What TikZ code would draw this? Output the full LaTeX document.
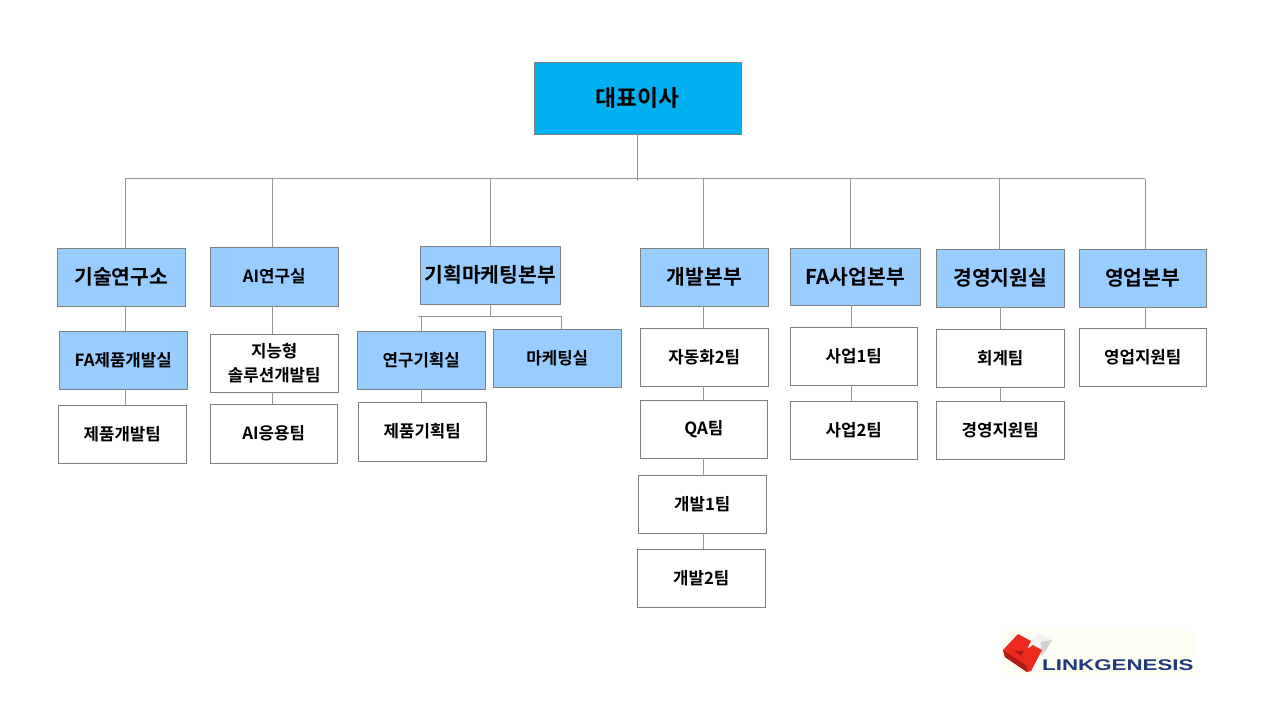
\documentclass[tikz,border=0pt]{standalone}
\usepackage{fontspec}
\setmainfont{Noto Sans CJK KR}[BoldFont=* Bold]
\newfontfamily\logofont{Liberation Sans}[FakeStretch=1.44]
\definecolor{topblue}{HTML}{00B0F0}
\definecolor{deptblue}{HTML}{99CCFF}
\definecolor{boxline}{HTML}{7F7F7F}
\definecolor{linkline}{HTML}{969696}
\definecolor{logonavy}{HTML}{1F3A7A}
\definecolor{logored}{HTML}{EC2A1E}
\definecolor{logodark}{HTML}{B01A14}
\tikzset{
	orgbox/.style={draw=boxline,line width=1pt,anchor=north west,inner sep=0pt,outer sep=0pt,align=center,text=black},
	topbox/.style={orgbox,fill=topblue,font=\bfseries\fontsize{22.8}{26}\selectfont},
	deptbox/.style={orgbox,fill=deptblue,font=\bfseries\fontsize{20.4}{24}\selectfont},
	roombox/.style={orgbox,fill=deptblue,font=\bfseries\fontsize{16.8}{20}\selectfont},
	teambox/.style={orgbox,fill=white,font=\bfseries\fontsize{16.8}{24}\selectfont},
	link/.style={draw=linkline,line width=1pt}
}
\begin{document}
\begin{tikzpicture}[x=1pt,y=-1pt]
\useasboundingbox (0,0) rectangle (1280,720);

% top
\node[topbox,minimum width=207.7pt,minimum height=72pt] (ceo) at (534,62) {대표이사};

% departments
\node[deptbox,minimum width=128.5pt,minimum height=58pt] (tech) at (57,248) {기술연구소};
\node[roombox,minimum width=128.5pt,minimum height=59pt] (ailab) at (210,247) {AI연구실};
\node[deptbox,minimum width=140.5pt,minimum height=58pt] (plan) at (420,246) {기획마케팅본부};
\node[deptbox,minimum width=128.5pt,minimum height=58pt] (dev) at (640,248) {개발본부};
\node[deptbox,minimum width=130.5pt,minimum height=57pt] (fabiz) at (790,248) {FA사업본부};
\node[deptbox,minimum width=128.5pt,minimum height=58pt] (mgmt) at (936,249) {경영지원실};
\node[deptbox,minimum width=127.5pt,minimum height=58pt] (sales) at (1079,249) {영업본부};

% tech
\node[roombox,minimum width=128.5pt,minimum height=58pt] (faroom) at (59,331) {FA제품개발실};
\node[teambox,minimum width=128.5pt,minimum height=58pt] (faprod) at (58,405) {제품개발팀};

% ai
\node[teambox,minimum width=128.5pt,minimum height=58pt] (smart) at (210,334) {지능형\\솔루션개발팀};
\node[teambox,minimum width=127.5pt,minimum height=59pt] (aiapp) at (210,404) {AI응용팀};

% planning
\node[roombox,minimum width=128.5pt,minimum height=58pt] (research) at (357,331) {연구기획실};
\node[roombox,minimum width=128.5pt,minimum height=58pt] (market) at (493,329) {마케팅실};
\node[teambox,minimum width=128.5pt,minimum height=59pt] (prodplan) at (358,402) {제품기획팀};

% dev
\node[teambox,minimum width=128.5pt,minimum height=58pt] (auto) at (640,328) {자동화2팀};
\node[teambox,minimum width=127.5pt,minimum height=58pt] (qa) at (640,400) {QA팀};
\node[teambox,minimum width=128.5pt,minimum height=58pt] (devone) at (638,475) {개발1팀};
\node[teambox,minimum width=128.5pt,minimum height=58pt] (devtwo) at (637,549) {개발2팀};

% business
\node[teambox,minimum width=127.5pt,minimum height=58pt] (bizone) at (790,327) {사업1팀};
\node[teambox,minimum width=127.5pt,minimum height=58pt] (biztwo) at (790,401) {사업2팀};

% management
\node[teambox,minimum width=128.5pt,minimum height=58pt] (account) at (936,329) {회계팀};
\node[teambox,minimum width=128.5pt,minimum height=58pt] (support) at (936,401) {경영지원팀};

% sales
\node[teambox,minimum width=127.5pt,minimum height=58pt] (salesteam) at (1079,328) {영업지원팀};

% main bus
\coordinate (busl) at (125,178.5);
\coordinate (busr) at (1145,178.5);
\coordinate (busm) at (637.5,181);
\coordinate (subl) at (418,316);
\coordinate (subr) at (561,316);
\coordinate (subm) at (490,316);
\coordinate (subd) at (421,316);
\draw[link] (busm |- ceo.south) -- (busm);
\draw[link] (busl) -- (busr);
\foreach \dropx/\dept in {125/tech,272/ailab,490/plan,703/dev,850/fabiz,999/mgmt,1145/sales}
	\draw[link] (\dropx,178.5) -- (\dropx,178.5 |- \dept.north);

% planning bus
\draw[link] (subl) -- (subr) -- (subr |- market.north);
\draw[link] (subm |- plan.south) -- (subm);
\draw[link] (subd) -- (subd |- research.north);

% inside the columns
\foreach \dropx/\upper/\lower in {125/tech/faroom,125/faroom/faprod,272/ailab/smart,272/smart/aiapp,
	421/research/prodplan,703/dev/auto,703/auto/qa,703/qa/devone,703/devone/devtwo,
	851/fabiz/bizone,851/bizone/biztwo,1000/mgmt/account,1000/account/support,1145/sales/salesteam}
	\draw[link] (\dropx,0 |- \upper.south) -- (\dropx,0 |- \lower.north);

% logo
\fill[fill=yellow!4] (1002,630) rectangle (1195,675);
\fill[black!5] (1030,641) -- (1038,633) -- (1052,640) -- (1046,650) -- (1041,656) -- (1034,651) -- cycle;
\fill[black!18] (1041,642) -- (1052,640) -- (1046,650) -- (1041,656) -- cycle;
\fill[logored] (1003,650) -- (1018,634) -- (1031,641) -- (1027,649) -- (1033,645) -- (1042,650) -- (1031,671) -- (1027,672) -- (1005,657) -- cycle;
\fill[logodark] (1003,650) -- (1027,666) -- (1027,672) -- (1005,657) -- cycle;
\fill[logodark] (1014,651) -- (1024,651) -- (1021,656) -- cycle;
\node[inner sep=0pt,anchor=base west,text=logonavy,font=\logofont\bfseries\fontsize{15.5}{15.5}\selectfont] (logotext) at (1042,670.5) {LINKGENESIS};
\end{tikzpicture}
\end{document}
